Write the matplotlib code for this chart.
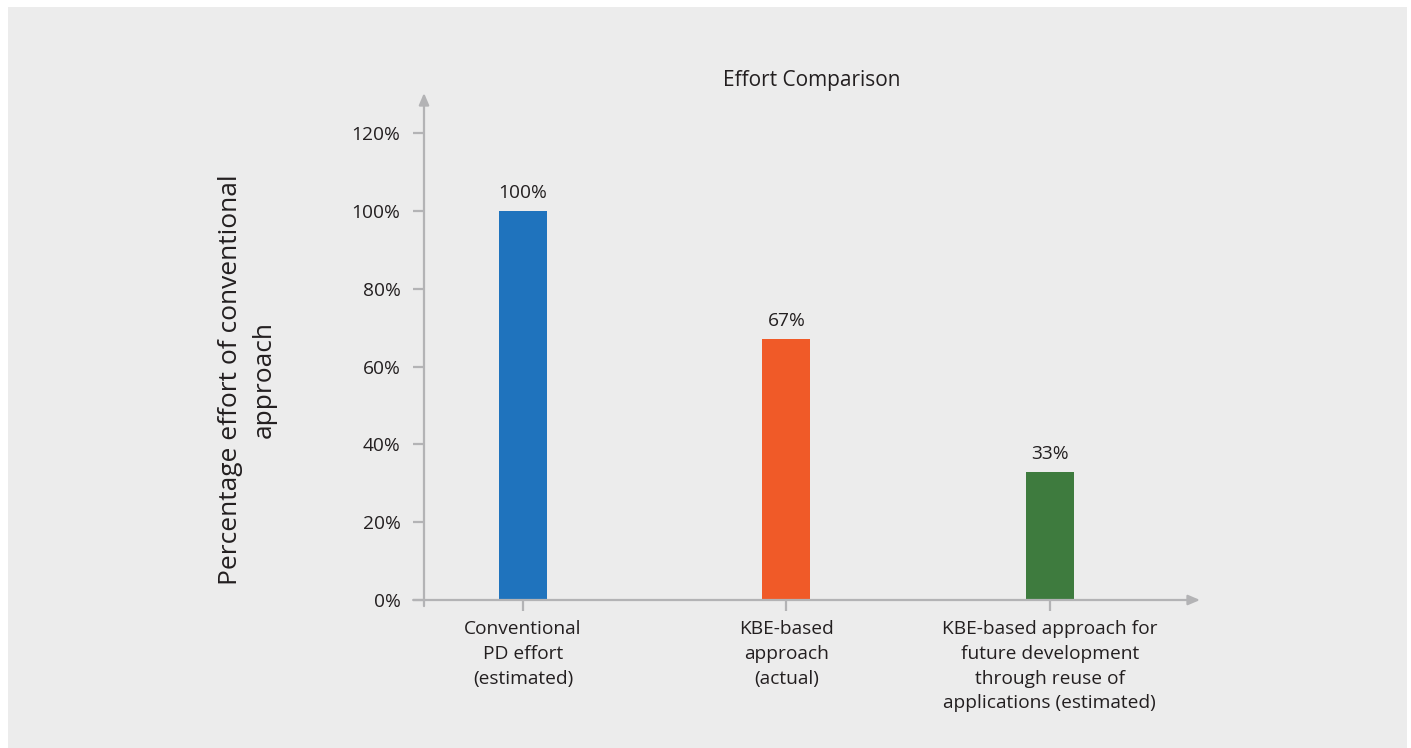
import matplotlib.pyplot as plt
import matplotlib.patches as mpatches

categories = ["Conventional\nPD effort\n(estimated)",
              "KBE-based\napproach\n(actual)",
              "KBE-based approach for\nfuture development\nthrough reuse of\napplications (estimated)"]
values = [100, 67, 33]
bar_labels = ["100%", "67%", "33%"]
colors = ["#1f73bd", "#f05a28", "#3e7b3e"]
yticks = [0, 20, 40, 60, 80, 100, 120]

plt.rcParams['font.family'] = ['Open Sans', 'DejaVu Sans']
text_color = "#231f20"
axis_color = "#b3b3b5"

fig = plt.figure(figsize=(14.11, 7.48), dpi=100, facecolor="white")
# gray panel
fig.patches.append(mpatches.Rectangle((8 / 1411, 0), 1399 / 1411, 741 / 748,
                                      transform=fig.transFigure, facecolor="#ececec",
                                      edgecolor="none", zorder=-10))

ax = fig.add_axes([424 / 1411, 148 / 748, 776 / 1411, 507 / 748])
ax.set_zorder(5)
ax.set_facecolor("none")
x = list(range(len(categories)))
ax.bar(x, values, width=0.182, color=colors, zorder=3)
for xi, v, lab in zip(x, values, bar_labels):
    ax.text(xi, v + 2.3, lab, ha="center", va="bottom", fontsize=13.8, color=text_color)

ax.set_xlim(-0.376, 2.57)
ax.set_ylim(0, 130.3)
for s in ax.spines.values():
    s.set_visible(False)

ax.set_yticks(yticks)
ax.set_yticklabels([f"{t}%" for t in yticks])
ax.set_xticks(x)
ax.set_xticklabels(categories, linespacing=1.48)
ax.tick_params(axis="y", length=8, width=1.6, color=axis_color, pad=9,
               labelsize=13.8, labelcolor=text_color)
ax.tick_params(axis="x", length=8, width=1.6, color=axis_color, pad=6.5,
               labelsize=13.8, labelcolor=text_color)

# axis lines with arrow heads
ax.annotate("", xy=(0, 1.0), xytext=(0, -0.012), xycoords="axes fraction",
            arrowprops=dict(arrowstyle="-|>,head_length=0.7,head_width=0.3",
                            color=axis_color, lw=1.6, shrinkA=0, shrinkB=0))
ax.annotate("", xy=(1.0, 0), xytext=(-0.014, 0), xycoords="axes fraction",
            arrowprops=dict(arrowstyle="-|>,head_length=0.7,head_width=0.3",
                            color=axis_color, lw=1.6, shrinkA=0, shrinkB=0))

ax.set_title("Effort Comparison", fontsize=15, color=text_color, pad=-2, y=1.02)
fig.text(247 / 1411, 368 / 748, "Percentage effort of conventional\napproach",
         rotation=90, ha="center", va="center", fontsize=19, color=text_color,
         linespacing=1.45)

fig.savefig("out.png", dpi=100, facecolor=fig.get_facecolor())
